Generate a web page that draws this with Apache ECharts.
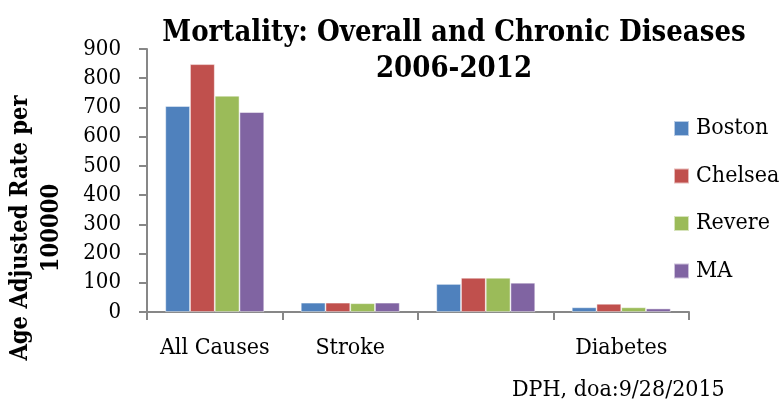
<!DOCTYPE html>
<html>
<head>
<meta charset="utf-8">
<script src="https://cdn.jsdelivr.net/npm/echarts@6/dist/echarts.min.js"></script>
<style>
  html, body { margin: 0; padding: 0; background: #fff; }
  #chart { width: 781px; height: 402px; }
</style>
</head>
<body>
<div id="chart"></div>
<script>
// Categories along the x axis (the third group carries no label)
const categories = ['All Causes', 'Stroke', '', 'Diabetes'];

// Age adjusted mortality rate per 100,000, 2006-2012
const boston  = [705, 32, 96, 16];
const chelsea = [848, 32, 117, 28];
const revere  = [740, 30, 117, 16];
const ma      = [684, 32, 100, 12];

const seriesNames = ['Boston', 'Chelsea', 'Revere', 'MA'];
const seriesColors = ['#4F81BD', '#C0504D', '#9BBB59', '#8064A2'];
const seriesData = [boston, chelsea, revere, ma];

// Y axis ticks
const yMin = 0, yMax = 900, yStep = 100;

const FONT = '"DejaVu Serif Condensed", "DejaVu Serif", serif';

const chart = echarts.init(document.getElementById('chart'), null, { renderer: 'canvas' });

chart.setOption({
  animation: false,
  backgroundColor: '#ffffff',
  title: {
    text: 'Mortality: Overall and Chronic Diseases\n2006-2012',
    left: 449,
    top: 10,
    textAlign: 'center',
    textStyle: {
      fontFamily: FONT,
      fontWeight: 'bold',
      fontSize: 29,
      lineHeight: 36,
      color: '#000'
    }
  },
  legend: {
    orient: 'vertical',
    left: 673,
    top: 117,
    padding: 0,
    itemWidth: 15,
    itemHeight: 15,
    itemGap: 24.5,
    icon: 'rect',
    textStyle: { fontFamily: FONT, fontSize: 23, lineHeight: 23, color: '#000', padding: [0, 0, 0, 2] },
    data: seriesNames
  },
  grid: { left: 147, right: 92, top: 49, bottom: 90 },
  xAxis: {
    type: 'category',
    data: categories,
    axisLine: { lineStyle: { color: '#878787', width: 2 } },
    axisTick: { show: true, length: 8, alignWithLabel: false, lineStyle: { color: '#878787', width: 2 } },
    axisLabel: { fontFamily: FONT, fontSize: 23, color: '#000', margin: 25, interval: 0 }
  },
  yAxis: {
    type: 'value',
    min: yMin,
    max: yMax,
    interval: yStep,
    axisLine: { show: true, lineStyle: { color: '#878787', width: 2 } },
    axisTick: { show: true, length: 8, lineStyle: { color: '#878787', width: 2 } },
    splitLine: { show: false },
    axisLabel: { fontFamily: FONT, fontSize: 22, color: '#000', margin: 26 }
  },
  graphic: [
    {
      type: 'text',
      x: 36,
      y: 228,
      rotation: Math.PI / 2,
      style: {
        text: 'Age Adjusted Rate per\n100000',
        fontFamily: FONT,
        fontWeight: 'bold',
        fontSize: 23.5,
        lineHeight: 31,
        align: 'center',
        verticalAlign: 'middle',
        fill: '#000'
      }
    },
    {
      type: 'text',
      x: 512,
      y: 390,
      style: {
        text: 'DPH, doa:9/28/2015',
        fontFamily: FONT,
        fontSize: 23,
        verticalAlign: 'middle',
        fill: '#000'
      }
    }
  ],
  series: seriesNames.map((name, i) => ({
    name: name,
    type: 'bar',
    data: seriesData[i],
    barGap: '0%',
    barCategoryGap: '27%',
    itemStyle: { color: seriesColors[i], borderColor: 'rgba(255,255,255,0.6)', borderWidth: 0.8 }
  }))
});
</script>
</body>
</html>
